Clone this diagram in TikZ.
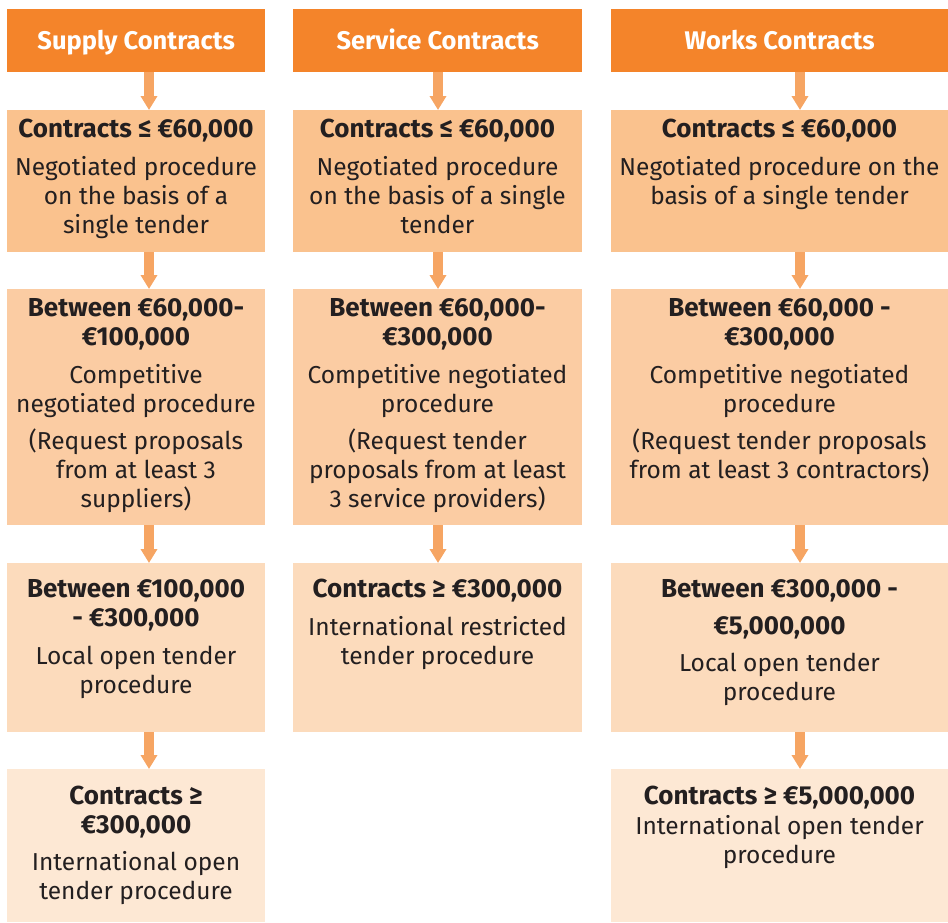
\documentclass[tikz,border=0pt]{standalone}
\usepackage{fontspec}
\setmainfont{Fira Sans}
\usetikzlibrary{arrows.meta}

\definecolor{headorange}{HTML}{F4842A}
\definecolor{arroworange}{HTML}{F6A563}
\definecolor{tierone}{HTML}{FAC28E}
\definecolor{tiertwo}{HTML}{FBCCA3}
\definecolor{tierthree}{HTML}{FCDBBC}
\definecolor{tierfour}{HTML}{FDE8D4}
\definecolor{inkgray}{HTML}{231F20}

\newcommand{\amount}[1]{{\fontsize{26}{29}\selectfont\bfseries #1}}

\tikzset{head/.style={fill=headorange,anchor=north west,inner sep=0,
           text height=18pt,text depth=0pt,
           font=\fontsize{25.5}{29}\selectfont\bfseries,text=white},
         tier/.style={anchor=north west,inner sep=0},
         txt/.style={anchor=north,inner sep=0,align=center,text=inkgray,
           font=\fontsize{24.5}{29}\selectfont},
         flow/.style={draw=arroworange,line width=10pt,
           -{Triangle[width=16pt,length=14pt]}}}

\begin{document}
\begin{tikzpicture}[x=1pt,y=-1pt]
\useasboundingbox (0,0) rectangle (948,922);
\coordinate (ax1) at (149,0);
\coordinate (ax2) at (438,0);
\coordinate (ax3) at (800,0);

% supply
\node [head,minimum width=258,minimum height=63] (sh) at (7,9) {Supply Contracts};
\node [tier,fill=tierone,minimum width=258,minimum height=142] (s1) at (7,110) {};
\node [tier,fill=tiertwo,minimum width=258,minimum height=236] (s2) at (7,289) {};
\node [tier,fill=tierthree,minimum width=258,minimum height=169] (s3) at (7,563) {};
\node [tier,fill=tierfour,minimum width=258,minimum height=153] (s4) at (7,769) {};
\node [txt] (s1t) at (136,119) {\amount{Contracts ≤ €60,000}\\[9pt]Negotiated procedure\\on the basis of a\\single tender};
\node [txt] (s2t) at (136,298) {\amount{Between €60,000-}\\\amount{€100,000}\\[9pt]Competitive\\negotiated procedure\\[8pt](Request proposals\\from at least 3\\suppliers)};
\node [txt] (s3t) at (136,579) {\amount{Between €100,000}\\\amount{- €300,000}\\[9pt]Local open tender\\procedure};
\node [txt] (s4t) at (136,786) {\amount{Contracts ≥}\\\amount{€300,000}\\[8pt]International open\\tender procedure};

% service
\node [head,minimum width=289,minimum height=63] (vh) at (293,9) {Service Contracts};
\node [tier,fill=tierone,minimum width=289,minimum height=142] (v1) at (293,110) {};
\node [tier,fill=tiertwo,minimum width=289,minimum height=236] (v2) at (293,289) {};
\node [tier,fill=tierthree,minimum width=289,minimum height=169] (v3) at (293,563) {};
\node [txt] (v1t) at (437.5,119) {\amount{Contracts ≤ €60,000}\\[9pt]Negotiated procedure\\on the basis of a single\\tender};
\node [txt] (v2t) at (437.5,298) {\amount{Between €60,000-}\\\amount{€300,000}\\[9pt]Competitive negotiated\\procedure\\[8pt](Request tender\\proposals from at least\\3 service providers)};
\node [txt] (v3t) at (437.5,579) {\amount{Contracts ≥ €300,000}\\[9pt]International restricted\\tender procedure};

% works
\node [head,minimum width=337,minimum height=63] (wh) at (611,9) {Works Contracts};
\node [tier,fill=tierone,minimum width=337,minimum height=142] (w1) at (611,110) {};
\node [tier,fill=tiertwo,minimum width=337,minimum height=236] (w2) at (611,289) {};
\node [tier,fill=tierthree,minimum width=337,minimum height=169] (w3) at (611,563) {};
\node [tier,fill=tierfour,minimum width=337,minimum height=153] (w4) at (611,769) {};
\node [txt] (w1t) at (779.5,119) {\amount{Contracts ≤ €60,000}\\[9pt]Negotiated procedure on the\\basis of a single tender};
\node [txt] (w2t) at (779.5,298) {\amount{Between €60,000 -}\\\amount{€300,000}\\[9pt]Competitive negotiated\\procedure\\[8pt](Request tender proposals\\from at least 3 contractors)};
\node [txt] (w3t) at (779.5,579) {\amount{Between €300,000 -}\\[8pt]\amount{€5,000,000}\\[8pt]Local open tender\\procedure};
\node [txt] (w4t) at (779.5,786) {\amount{Contracts ≥ €5,000,000}\\[1pt]International open tender\\procedure};

% arrows
\draw [flow] (sh.south -| ax1) -- (s1.north -| ax1);
\draw [flow] (s1.south -| ax1) -- (s2.north -| ax1);
\draw [flow] (s2.south -| ax1) -- (s3.north -| ax1);
\draw [flow] (s3.south -| ax1) -- (s4.north -| ax1);
\draw [flow] (vh.south -| ax2) -- (v1.north -| ax2);
\draw [flow] (v1.south -| ax2) -- (v2.north -| ax2);
\draw [flow] (v2.south -| ax2) -- (v3.north -| ax2);
\draw [flow] (wh.south -| ax3) -- (w1.north -| ax3);
\draw [flow] (w1.south -| ax3) -- (w2.north -| ax3);
\draw [flow] (w2.south -| ax3) -- (w3.north -| ax3);
\draw [flow] (w3.south -| ax3) -- (w4.north -| ax3);
\end{tikzpicture}
\end{document}
